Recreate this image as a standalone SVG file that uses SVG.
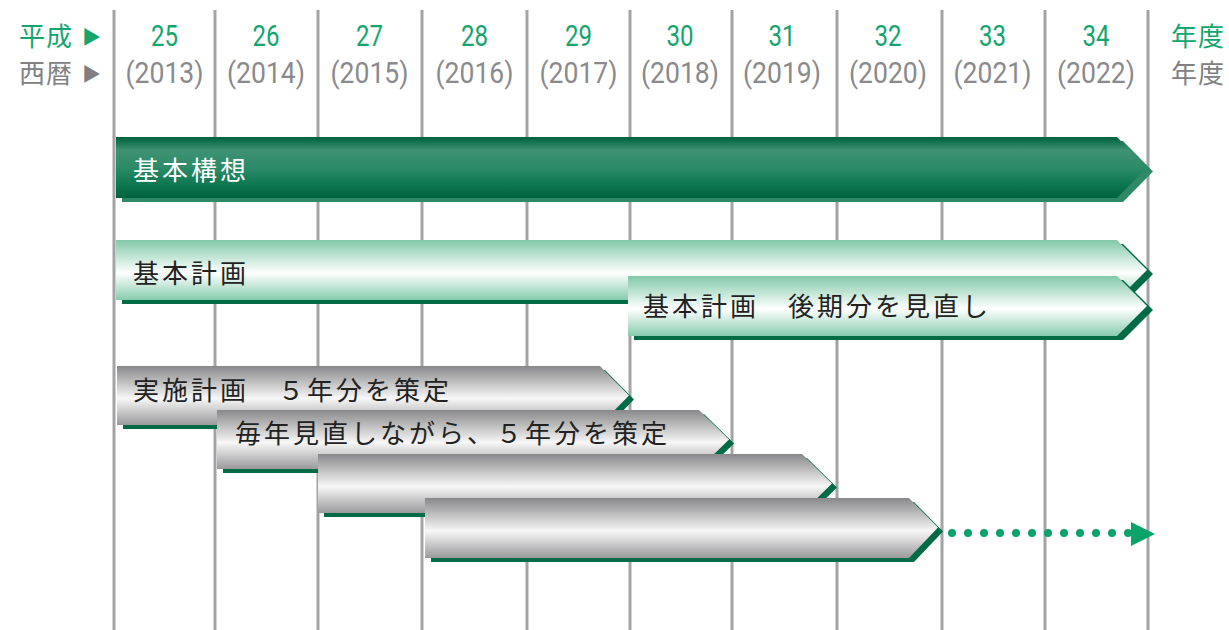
<svg xmlns="http://www.w3.org/2000/svg" width="1229" height="630" viewBox="0 0 1229 630">
<style>
.grid{stroke:#a3a3a5;stroke-width:3}
.hg{font-family:"Noto Sans CJK JP",sans-serif;font-size:26px;fill:#13a56c;letter-spacing:1px}
.hy{font-family:"Noto Sans CJK JP",sans-serif;font-size:26px;fill:#808082;letter-spacing:1px}
.ng{font-family:Roboto,"Liberation Sans",sans-serif;font-size:29px;fill:#13a56c;text-anchor:middle}
.ny{font-family:Roboto,"Liberation Sans",sans-serif;font-size:29px;fill:#8a8a8c;text-anchor:middle}
.bt{font-family:"Noto Sans CJK JP",sans-serif;font-size:26px;fill:#222;letter-spacing:3px}
.bw{font-family:"Noto Sans CJK JP",sans-serif;font-size:26px;fill:#fff;letter-spacing:3px}
.sh{fill:#006b45}
.dot{fill:#0aa36a}
</style>
<defs>
<linearGradient id="gDark" x1="0" y1="0" x2="0" y2="1">
<stop offset="0" stop-color="#005f3b"/>
<stop offset="0.22" stop-color="#3f9274"/>
<stop offset="0.5" stop-color="#2b8b68"/>
<stop offset="0.8" stop-color="#0b7650"/>
<stop offset="1" stop-color="#00603d"/>
</linearGradient>
<linearGradient id="gLight" x1="0" y1="0" x2="0" y2="1">
<stop offset="0" stop-color="#82c9a9"/>
<stop offset="0.55" stop-color="#ffffff"/>
<stop offset="1" stop-color="#86cbad"/>
</linearGradient>
<linearGradient id="gGray" x1="0" y1="0" x2="0" y2="1">
<stop offset="0" stop-color="#88888a"/>
<stop offset="0.55" stop-color="#f7f7f7"/>
<stop offset="1" stop-color="#9a9a9c"/>
</linearGradient>
</defs>
<rect width="1229" height="630" fill="#fff"/>

<g id="grid">
<line class="grid" x1="114" y1="10" x2="114" y2="630"/>
<line class="grid" x1="215" y1="10" x2="215" y2="630"/>
<line class="grid" x1="318" y1="10" x2="318" y2="630"/>
<line class="grid" x1="422" y1="10" x2="422" y2="630"/>
<line class="grid" x1="527" y1="10" x2="527" y2="630"/>
<line class="grid" x1="630" y1="10" x2="630" y2="630"/>
<line class="grid" x1="732" y1="10" x2="732" y2="630"/>
<line class="grid" x1="837" y1="10" x2="837" y2="630"/>
<line class="grid" x1="942" y1="10" x2="942" y2="630"/>
<line class="grid" x1="1045" y1="10" x2="1045" y2="630"/>
<line class="grid" x1="1148" y1="10" x2="1148" y2="630"/>
</g>

<g id="header">
<text class="hg" x="19" y="46">平成</text>
<text class="hg" x="82" y="44" style="font-size:19px">▶</text>
<text class="hy" x="19" y="83">西暦</text>
<text class="hy" x="82" y="81" style="font-size:19px;fill:#808082">▶</text>
<text class="ng" x="164.5" y="46" textLength="27" lengthAdjust="spacingAndGlyphs">25</text>
<text class="ng" x="266" y="46" textLength="27" lengthAdjust="spacingAndGlyphs">26</text>
<text class="ng" x="369.5" y="46" textLength="27" lengthAdjust="spacingAndGlyphs">27</text>
<text class="ng" x="474.5" y="46" textLength="27" lengthAdjust="spacingAndGlyphs">28</text>
<text class="ng" x="578.5" y="46" textLength="27" lengthAdjust="spacingAndGlyphs">29</text>
<text class="ng" x="680" y="46" textLength="27" lengthAdjust="spacingAndGlyphs">30</text>
<text class="ng" x="782" y="46" textLength="27" lengthAdjust="spacingAndGlyphs">31</text>
<text class="ng" x="888" y="46" textLength="27" lengthAdjust="spacingAndGlyphs">32</text>
<text class="ng" x="992.5" y="46" textLength="27" lengthAdjust="spacingAndGlyphs">33</text>
<text class="ng" x="1096" y="46" textLength="27" lengthAdjust="spacingAndGlyphs">34</text>
<text class="ny" x="164.5" y="83" textLength="78" lengthAdjust="spacingAndGlyphs">(2013)</text>
<text class="ny" x="266" y="83" textLength="78" lengthAdjust="spacingAndGlyphs">(2014)</text>
<text class="ny" x="369.5" y="83" textLength="78" lengthAdjust="spacingAndGlyphs">(2015)</text>
<text class="ny" x="474.5" y="83" textLength="78" lengthAdjust="spacingAndGlyphs">(2016)</text>
<text class="ny" x="578.5" y="83" textLength="78" lengthAdjust="spacingAndGlyphs">(2017)</text>
<text class="ny" x="680" y="83" textLength="78" lengthAdjust="spacingAndGlyphs">(2018)</text>
<text class="ny" x="782" y="83" textLength="78" lengthAdjust="spacingAndGlyphs">(2019)</text>
<text class="ny" x="888" y="83" textLength="78" lengthAdjust="spacingAndGlyphs">(2020)</text>
<text class="ny" x="992.5" y="83" textLength="78" lengthAdjust="spacingAndGlyphs">(2021)</text>
<text class="ny" x="1096" y="83" textLength="78" lengthAdjust="spacingAndGlyphs">(2022)</text>
<text class="hg" x="1171" y="46">年度</text>
<text class="hy" x="1171" y="83">年度</text>
</g>

<g id="kihon-koso">
<polygon points="122,141 1123,141 1153,171.5 1123,202 122,202" fill="#2e8a66"/>
<polygon points="116,137 1117,137 1147,167.5 1117,198 116,198" fill="url(#gDark)"/>
<text class="bw" x="133" y="180">基本構想</text>
</g>

<g id="kihon-keikaku">
<polygon points="122,244 1123,244 1153,274 1123,304 122,304" class="sh"/>
<polygon points="116,240 1117,240 1147,270 1117,300 116,300" fill="url(#gLight)"/>
<text class="bt" x="133" y="283">基本計画</text>
</g>

<g id="kihon-keikaku-koki">
<polygon points="634,280 1123,280 1153,310 1123,340 634,340" class="sh"/>
<polygon points="628,276 1117,276 1147,306 1117,336 628,336" fill="url(#gLight)"/>
<text class="bt" x="643" y="316">基本計画　後期分を見直し</text>
</g>

<g id="jisshi-keikaku">
<polygon points="123,370 605,370 634,399.5 605,429 123,429" class="sh"/>
<polygon points="117,366 600,366 629,395.5 600,425 117,425" fill="url(#gGray)"/>
<text class="bt" x="133" y="400">実施計画　５年分を策定</text>
</g>

<g id="minaoshi-1">
<polygon points="223,414 704,414 734,443.5 704,473 223,473" class="sh"/>
<polygon points="217,410 699,410 729,439.5 699,469 217,469" fill="url(#gGray)"/>
<text class="bt" x="235" y="443">毎年見直しながら、５年分を策定</text>
</g>

<g id="minaoshi-2">
<polygon points="324,458 807,458 837,487.5 807,517 324,517" class="sh"/>
<polygon points="318,454 802,454 832,483.5 802,513 318,513" fill="url(#gGray)"/>
</g>

<g id="minaoshi-3">
<polygon points="431,502 914,502 943,531.5 914,562 431,562" class="sh"/>
<polygon points="425,498 909,498 938,527.5 909,558 425,558" fill="url(#gGray)"/>
</g>

<g id="connectors">
<circle class="dot" cx="952" cy="533" r="4"/>
<circle class="dot" cx="968" cy="533" r="4"/>
<circle class="dot" cx="984" cy="533" r="4"/>
<circle class="dot" cx="1000" cy="533" r="4"/>
<circle class="dot" cx="1016" cy="533" r="4"/>
<circle class="dot" cx="1032" cy="533" r="4"/>
<circle class="dot" cx="1048" cy="533" r="4"/>
<circle class="dot" cx="1064" cy="533" r="4"/>
<circle class="dot" cx="1080" cy="533" r="4"/>
<circle class="dot" cx="1096" cy="533" r="4"/>
<circle class="dot" cx="1112" cy="533" r="4"/>
<circle class="dot" cx="1128" cy="533" r="4"/>
<polygon class="dot" points="1131,522 1155,534 1131,546"/>
</g>
</svg>
